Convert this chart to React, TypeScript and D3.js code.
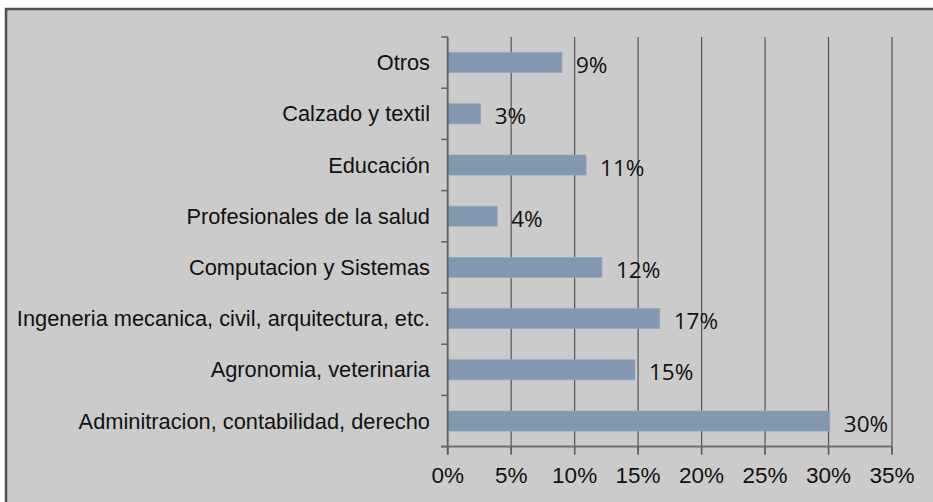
import React from "react";
import * as d3 from "d3";

const categories = [
  "Otros",
  "Calzado y textil",
  "Educación",
  "Profesionales de la salud",
  "Computacion y Sistemas",
  "Ingeneria mecanica, civil, arquitectura, etc.",
  "Agronomia, veterinaria",
  "Adminitracion, contabilidad, derecho",
];
const values = [9.0, 2.6, 10.9, 3.9, 12.15, 16.7, 14.75, 30.1];
const valueLabels = ["9%", "3%", "11%", "4%", "12%", "17%", "15%", "30%"];
const xTicks = [0, 5, 10, 15, 20, 25, 30, 35];
const xTickLabels = ["0%", "5%", "10%", "15%", "20%", "25%", "30%", "35%"];

const W = 933;
const H = 502;
const plot = { left: 447.7, right: 892, top: 37, bottom: 446.6 };

export default function App() {
  const x = d3.scaleLinear().domain([0, 35]).range([plot.left, plot.right]);
  const y = d3.scaleBand<string>().domain(categories).range([plot.top, plot.bottom]);
  const step = y.bandwidth();
  const barH = step * 0.39;
  const boundaries = d3.range(categories.length + 1).map((i) => plot.top + i * step);

  return (
    <svg
      width={W}
      height={H}
      style={{ position: "absolute", left: 0, top: 0, background: "#ffffff" }}
    >
      <rect x={6} y={9} width={W + 20} height={H + 20} fill="#cbcbcb" stroke="#4f4f4f" strokeWidth={2.5} />
      {/* gridlines */}
      {xTicks.slice(1).map((t) => (
        <line key={"g" + t} x1={x(t)} x2={x(t)} y1={plot.top} y2={plot.bottom + 8} stroke="#555555" strokeWidth={1.2} />
      ))}
      {/* bars */}
      {categories.map((c, i) => (
        <rect
          key={c}
          x={x(0)}
          y={(y(c) as number) + (step - barH) / 2}
          width={x(values[i]) - x(0)}
          height={barH}
          fill="#8497b0"
          stroke="#94a5bb"
          strokeWidth={0.8}
        />
      ))}
      {/* y axis */}
      <line x1={plot.left} x2={plot.left} y1={plot.top} y2={plot.bottom + 8} stroke="#5f5f5f" strokeWidth={1.8} />
      {boundaries.map((b, i) => (
        <line key={"yt" + i} x1={plot.left - 6.5} x2={plot.left} y1={b} y2={b} stroke="#5f5f5f" strokeWidth={1.5} />
      ))}
      {/* x axis */}
      <line x1={plot.left - 6.5} x2={plot.right} y1={plot.bottom} y2={plot.bottom} stroke="#707070" strokeWidth={2} />
      {xTicks.map((t) => (
        <line key={"xt" + t} x1={x(t)} x2={x(t)} y1={plot.bottom} y2={plot.bottom + 8} stroke="#5f5f5f" strokeWidth={1.5} />
      ))}
      {/* x tick labels */}
      {xTicks.map((t, i) => (
        <text
          key={"xl" + t}
          x={x(t)}
          y={483}
          textAnchor="middle"
          fontFamily="'Liberation Sans', Arial, sans-serif"
          fontSize={22.5}
          fill="#111"
        >
          {xTickLabels[i]}
        </text>
      ))}
      {/* category labels */}
      {categories.map((c) => (
        <text
          key={"cl" + c}
          x={430}
          y={(y(c) as number) + step / 2 + 7.5}
          textAnchor="end"
          fontFamily="'Liberation Sans', Arial, sans-serif"
          fontSize={21.8}
          fill="#111"
        >
          {c}
        </text>
      ))}
      {/* value labels */}
      {categories.map((c, i) => (
        <text
          key={"vl" + c}
          x={x(values[i]) + 14}
          y={(y(c) as number) + step / 2 + 10.5}
          fontFamily="'Open Sans', sans-serif"
          fontSize={22.5}
          fill="#111"
        >
          {valueLabels[i]}
        </text>
      ))}
    </svg>
  );
}
